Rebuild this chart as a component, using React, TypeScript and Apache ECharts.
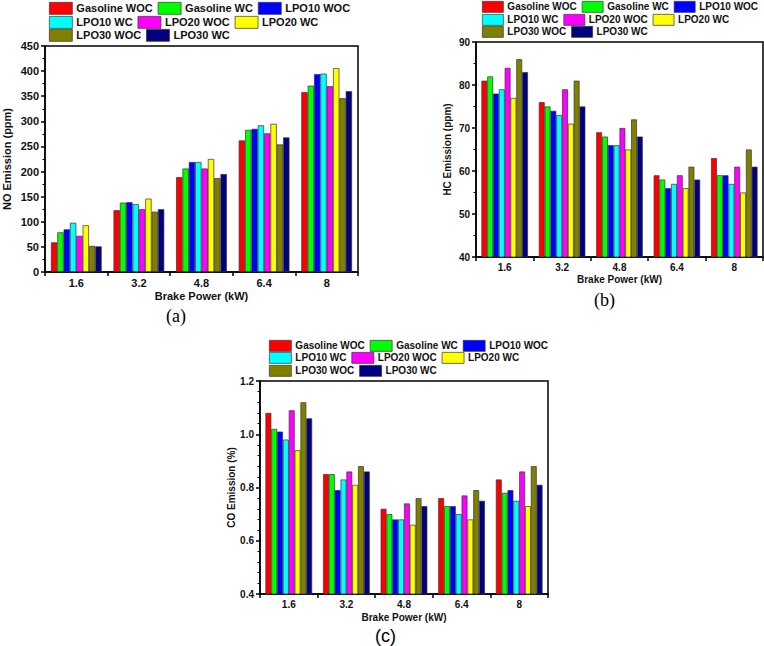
import React, { useEffect, useRef } from "react";
import * as echarts from "echarts";

const categories = ["1.6", "3.2", "4.8", "6.4", "8"];
const seriesNames = [
  "Gasoline WOC",
  "Gasoline WC",
  "LPO10 WOC",
  "LPO10 WC",
  "LPO20 WOC",
  "LPO20 WC",
  "LPO30 WOC",
  "LPO30 WC",
];
const seriesColors = ["#FF0000", "#00FF00", "#0000FF", "#00FFFF", "#FF00FF", "#FFFF00", "#808000", "#000080"];

// NO emission (ppm)
const noGasolineWOC = [59, 123, 189, 262, 358];
const noGasolineWC = [79, 138, 206, 283, 371];
const noLPO10WOC = [85, 139, 219, 285, 394];
const noLPO10WC = [98, 135, 219, 292, 395];
const noLPO20WOC = [72, 125, 206, 276, 370];
const noLPO20WC = [93, 146, 225, 295, 406];
const noLPO30WOC = [52, 120, 187, 254, 346];
const noLPO30WC = [51, 125, 195, 268, 360];

// HC emission (ppm)
const hcGasolineWOC = [81, 76, 69, 59, 63];
const hcGasolineWC = [82, 75, 68, 58, 59];
const hcLPO10WOC = [78, 74, 66, 56, 59];
const hcLPO10WC = [79, 73, 66, 57, 57];
const hcLPO20WOC = [84, 79, 70, 59, 61];
const hcLPO20WC = [77, 71, 65, 56, 55];
const hcLPO30WOC = [86, 81, 72, 61, 65];
const hcLPO30WC = [83, 75, 68, 58, 61];

// CO emission (%)
const coGasolineWOC = [1.08, 0.85, 0.72, 0.76, 0.83];
const coGasolineWC = [1.02, 0.85, 0.7, 0.73, 0.78];
const coLPO10WOC = [1.01, 0.79, 0.68, 0.73, 0.79];
const coLPO10WC = [0.98, 0.83, 0.68, 0.7, 0.75];
const coLPO20WOC = [1.09, 0.86, 0.74, 0.77, 0.86];
const coLPO20WC = [0.94, 0.81, 0.66, 0.68, 0.73];
const coLPO30WOC = [1.12, 0.88, 0.76, 0.79, 0.88];
const coLPO30WC = [1.06, 0.86, 0.73, 0.75, 0.81];

const noData = [noGasolineWOC, noGasolineWC, noLPO10WOC, noLPO10WC, noLPO20WOC, noLPO20WC, noLPO30WOC, noLPO30WC];
const hcData = [hcGasolineWOC, hcGasolineWC, hcLPO10WOC, hcLPO10WC, hcLPO20WOC, hcLPO20WC, hcLPO30WOC, hcLPO30WC];
const coData = [coGasolineWOC, coGasolineWC, coLPO10WOC, coLPO10WC, coLPO20WOC, coLPO20WC, coLPO30WOC, coLPO30WC];

const FONT = "'Liberation Sans', Arial, sans-serif";

export default function App() {
  const ref = useRef<HTMLDivElement>(null);
  useEffect(() => {
    document.body.style.margin = "0";
    const chart = echarts.init(ref.current!, null, { renderer: "svg" });

    const grids = [
      { left: 42, top: 46, width: 316, height: 226 },
      { left: 476, top: 42, width: 287, height: 215 },
      { left: 260, top: 381, width: 288, height: 213 },
    ];
    const fontSizes = [11, 10, 10];
    const xNameGaps = [18, 17, 18];
    const yCfg = [
      { min: 0, max: 450, interval: 50, minor: 2, name: "NO Emission (ppm)", gap: 33, fmt: (v: number) => String(v) },
      { min: 40, max: 90, interval: 10, minor: 2, name: "HC Emission (ppm)", gap: 24, fmt: (v: number) => String(v) },
      { min: 0.4, max: 1.2, interval: 0.2, minor: 5, name: "CO Emission (%)", gap: 23, fmt: (v: number) => v.toFixed(1) },
    ];
    const datasets = [noData, hcData, coData];

    const axisLine = { show: true, lineStyle: { color: "#000", width: 1.5 } };
    const labelStyle = (fs: number) => ({ color: "#111", fontFamily: FONT, fontWeight: "bold" as const, fontSize: fs });

    const xAxis = grids.map((_, i) => ({
      type: "category",
      gridIndex: i,
      data: categories,
      name: "Brake Power (kW)",
      nameLocation: "middle",
      nameGap: xNameGaps[i],
      nameTextStyle: labelStyle(fontSizes[i]),
      axisLine,
      axisTick: { show: true, length: 4, lineStyle: { color: "#000", width: 1.5 } },
      axisLabel: { ...labelStyle(fontSizes[i]), margin: 5 },
      splitLine: { show: false },
    }));

    const yAxis = yCfg.map((c, i) => ({
      type: "value",
      gridIndex: i,
      min: c.min,
      max: c.max,
      interval: c.interval,
      name: c.name,
      nameLocation: "middle",
      nameGap: c.gap,
      nameTextStyle: labelStyle(fontSizes[i]),
      axisLine,
      axisTick: { show: true, length: 4, lineStyle: { color: "#000", width: 1.5 } },
      minorTick: { show: true, splitNumber: c.minor, length: 2.5, lineStyle: { color: "#000", width: 1 } },
      axisLabel: { ...labelStyle(fontSizes[i]), margin: 6, formatter: c.fmt },
      splitLine: { show: false },
    }));

    const series: any[] = [];
    datasets.forEach((ds, gi) => {
      ds.forEach((vals, si) => {
        series.push({
          type: "bar",
          name: seriesNames[si],
          xAxisIndex: gi,
          yAxisIndex: gi,
          data: vals,
          barGap: "0%",
          barCategoryGap: "19%",
          itemStyle: { color: seriesColors[si], borderColor: "#333", borderWidth: 0.7 },
        });
      });
    });

    const legendRows = [
      [seriesNames[0], seriesNames[1], seriesNames[2]],
      [seriesNames[3], seriesNames[4], seriesNames[5]],
      [seriesNames[6], seriesNames[7]],
    ];
    const legendPos = [
      { left: 49, tops: [2, 16, 29], w: 23, h: 12, fs: 11 },
      { left: 482, tops: [1, 14, 26], w: 21, h: 11, fs: 10 },
      { left: 269, tops: [340, 352, 365], w: 22, h: 11, fs: 10 },
    ];
    const legend: any[] = [];
    legendPos.forEach((p) => {
      legendRows.forEach((row, ri) => {
        legend.push({
          left: p.left,
          top: p.tops[ri],
          width: 400,
          orient: "horizontal",
          padding: 0,
          itemWidth: p.w,
          itemHeight: p.h,
          itemGap: 5,
          icon: "rect",
          data: row,
          selectedMode: false,
          textStyle: { ...labelStyle(p.fs), padding: [0, 0, 0, -1] },
          itemStyle: { borderColor: "#333", borderWidth: 0.7 },
        });
      });
    });

    chart.setOption({
      animation: false,
      backgroundColor: "#fff",
      grid: grids.map((g) => ({ ...g, show: true, borderColor: "#000", borderWidth: 1.5, containLabel: false })),
      xAxis,
      yAxis,
      legend,
      series,
      graphic: [
        { type: "text", left: 166, top: 307, style: { text: "(a)", font: "18px 'Liberation Serif', serif", fill: "#000" } },
        { type: "text", left: 594, top: 291, style: { text: "(b)", font: "18px 'Liberation Serif', serif", fill: "#000" } },
        { type: "text", left: 375, top: 627, style: { text: "(c)", font: "18px 'Liberation Sans', sans-serif", fill: "#000" } },
      ],
    });
    return () => chart.dispose();
  }, []);
  return <div ref={ref} style={{ width: 764, height: 646 }} />;
}
